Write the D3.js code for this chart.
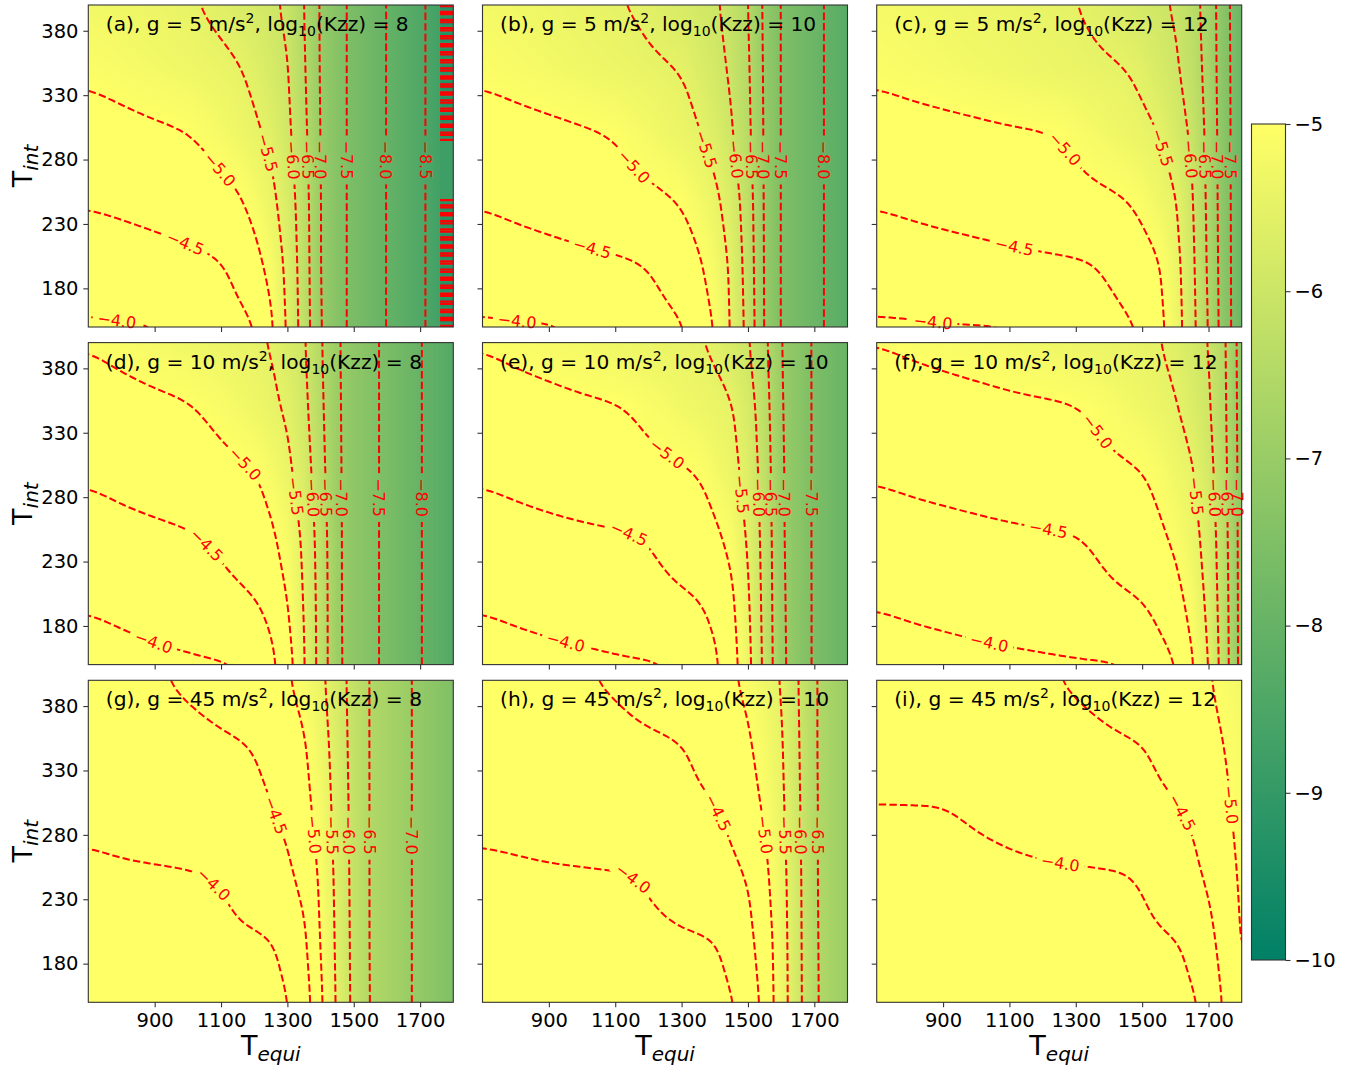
<!DOCTYPE html>
<html>
<head>
<meta charset="utf-8">
<script src="https://cdn.jsdelivr.net/npm/d3@7/dist/d3.min.js"></script>
<style>
  body { margin: 0; background: #fff; }
  svg text { font-family: "DejaVu Sans", sans-serif; }
</style>
</head>
<body>
<svg id="fig" width="1351" height="1075"></svg>
<script>
// sample grid (Teq columns, Tint rows from top to bottom)
const teqCols = [700, 800, 900, 1000, 1100, 1150, 1200, 1250, 1300, 1350, 1400, 1450, 1500, 1550, 1600, 1650, 1700, 1750, 1800];
const tintRows = [400, 350, 300, 250, 200, 150];

// log10 abundance
const gridA = [
  [-5.25, -5.30, -5.37, -5.45, -5.62, -5.72, -5.82, -5.92, -6.08, -6.50, -7.04, -7.35, -7.61, -7.81, -8.01, -8.22, -8.43, -8.65, -8.85],
  [-5.07, -5.15, -5.22, -5.30, -5.40, -5.46, -5.61, -5.79, -5.98, -6.45, -7.03, -7.35, -7.61, -7.81, -8.01, -8.22, -8.43, -8.65, -8.85],
  [-4.83, -4.88, -4.94, -4.99, -5.19, -5.30, -5.42, -5.59, -5.89, -6.38, -7.01, -7.35, -7.61, -7.81, -8.01, -8.22, -8.43, -8.65, -8.85],
  [-4.55, -4.60, -4.66, -4.74, -4.86, -4.95, -5.15, -5.38, -5.73, -6.29, -6.99, -7.35, -7.61, -7.81, -8.01, -8.22, -8.43, -8.65, -8.85],
  [-4.25, -4.30, -4.35, -4.40, -4.48, -4.64, -4.85, -5.14, -5.62, -6.26, -6.99, -7.35, -7.61, -7.81, -8.01, -8.22, -8.43, -8.65, -8.85],
  [-3.95, -3.97, -3.99, -4.10, -4.29, -4.39, -4.49, -4.91, -5.56, -6.23, -6.97, -7.35, -7.61, -7.81, -8.01, -8.22, -8.43, -8.65, -8.85]
];
const gridB = [
  [-5.22, -5.28, -5.35, -5.42, -5.48, -5.52, -5.61, -5.69, -5.78, -5.86, -5.95, -6.14, -6.50, -7.08, -7.51, -7.70, -7.89, -8.08, -8.28],
  [-5.07, -5.14, -5.21, -5.29, -5.36, -5.39, -5.43, -5.47, -5.51, -5.68, -5.85, -6.06, -6.44, -7.06, -7.51, -7.70, -7.89, -8.08, -8.28],
  [-4.83, -4.87, -4.91, -4.96, -5.02, -5.11, -5.20, -5.29, -5.38, -5.47, -5.67, -5.96, -6.39, -7.05, -7.51, -7.70, -7.89, -8.08, -8.28],
  [-4.55, -4.63, -4.70, -4.78, -4.85, -4.89, -4.93, -4.97, -5.03, -5.21, -5.40, -5.72, -6.26, -7.04, -7.51, -7.70, -7.89, -8.08, -8.28],
  [-4.25, -4.30, -4.35, -4.40, -4.45, -4.48, -4.52, -4.66, -4.80, -4.94, -5.19, -5.58, -6.21, -7.03, -7.51, -7.70, -7.89, -8.08, -8.28],
  [-3.95, -3.97, -3.98, -4.02, -4.17, -4.24, -4.31, -4.39, -4.46, -4.67, -5.03, -5.55, -6.15, -7.02, -7.51, -7.70, -7.89, -8.08, -8.28]
];
const gridC = [
  [-5.20, -5.25, -5.30, -5.35, -5.40, -5.42, -5.45, -5.47, -5.50, -5.58, -5.67, -5.76, -5.84, -5.93, -6.05, -6.31, -6.70, -7.36, -7.85],
  [-5.07, -5.13, -5.18, -5.24, -5.29, -5.32, -5.35, -5.38, -5.40, -5.43, -5.46, -5.49, -5.58, -5.76, -5.93, -6.22, -6.68, -7.34, -7.85],
  [-4.83, -4.86, -4.89, -4.92, -4.96, -4.97, -4.99, -5.01, -5.09, -5.18, -5.26, -5.34, -5.42, -5.50, -5.76, -6.07, -6.64, -7.33, -7.85],
  [-4.55, -4.61, -4.67, -4.72, -4.78, -4.81, -4.84, -4.87, -4.90, -4.93, -4.96, -4.99, -5.11, -5.30, -5.48, -5.96, -6.61, -7.32, -7.85],
  [-4.25, -4.29, -4.32, -4.36, -4.40, -4.42, -4.43, -4.45, -4.47, -4.49, -4.57, -4.70, -4.84, -4.98, -5.32, -5.89, -6.58, -7.31, -7.85],
  [-3.95, -3.96, -3.98, -3.99, -4.00, -4.06, -4.13, -4.19, -4.25, -4.32, -4.38, -4.44, -4.53, -4.86, -5.26, -5.84, -6.53, -7.30, -7.85]
];
const gridD = [
  [-5.03, -5.12, -5.20, -5.29, -5.37, -5.42, -5.46, -5.52, -5.74, -5.96, -6.45, -6.95, -7.20, -7.39, -7.60, -7.79, -7.98, -8.17, -8.37],
  [-4.80, -4.86, -4.92, -4.97, -5.11, -5.21, -5.31, -5.42, -5.56, -5.87, -6.40, -6.94, -7.20, -7.39, -7.60, -7.79, -7.98, -8.17, -8.37],
  [-4.56, -4.65, -4.73, -4.82, -4.90, -4.94, -4.99, -5.16, -5.40, -5.74, -6.33, -6.93, -7.20, -7.39, -7.60, -7.79, -7.98, -8.17, -8.37],
  [-4.31, -4.36, -4.41, -4.46, -4.57, -4.69, -4.81, -4.93, -5.16, -5.59, -6.22, -6.92, -7.20, -7.39, -7.60, -7.79, -7.98, -8.17, -8.37],
  [-4.05, -4.13, -4.22, -4.30, -4.39, -4.43, -4.47, -4.62, -5.00, -5.53, -6.19, -6.92, -7.20, -7.39, -7.60, -7.79, -7.98, -8.17, -8.37],
  [-3.80, -3.84, -3.89, -3.93, -3.98, -4.00, -4.18, -4.38, -4.75, -5.47, -6.19, -6.91, -7.20, -7.39, -7.60, -7.79, -7.98, -8.17, -8.37]
];
const gridE = [
  [-5.03, -5.10, -5.17, -5.24, -5.30, -5.34, -5.37, -5.41, -5.44, -5.48, -5.56, -5.77, -5.97, -6.39, -6.98, -7.27, -7.55, -7.75, -7.95],
  [-4.80, -4.85, -4.89, -4.94, -4.98, -5.02, -5.10, -5.17, -5.25, -5.32, -5.40, -5.47, -5.76, -6.30, -6.96, -7.26, -7.55, -7.75, -7.95],
  [-4.56, -4.63, -4.70, -4.76, -4.83, -4.87, -4.90, -4.93, -4.97, -5.01, -5.19, -5.37, -5.64, -6.23, -6.94, -7.26, -7.55, -7.75, -7.95],
  [-4.31, -4.35, -4.39, -4.43, -4.46, -4.48, -4.52, -4.62, -4.72, -4.82, -4.92, -5.11, -5.56, -6.17, -6.93, -7.26, -7.55, -7.75, -7.95],
  [-4.05, -4.12, -4.18, -4.25, -4.31, -4.35, -4.38, -4.41, -4.45, -4.48, -4.61, -4.91, -5.44, -6.15, -6.91, -7.25, -7.55, -7.75, -7.95],
  [-3.80, -3.83, -3.87, -3.90, -3.94, -3.96, -3.97, -3.99, -4.08, -4.25, -4.42, -4.77, -5.35, -6.12, -6.89, -7.25, -7.55, -7.75, -7.95]
];
const gridF = [
  [-5.01, -5.07, -5.12, -5.18, -5.24, -5.27, -5.29, -5.32, -5.35, -5.38, -5.41, -5.43, -5.46, -5.49, -5.63, -5.82, -6.02, -6.48, -7.23],
  [-4.78, -4.81, -4.85, -4.88, -4.92, -4.94, -4.95, -4.97, -4.99, -5.03, -5.11, -5.20, -5.29, -5.38, -5.47, -5.68, -5.94, -6.45, -7.22],
  [-4.55, -4.61, -4.66, -4.72, -4.77, -4.80, -4.83, -4.85, -4.88, -4.91, -4.94, -4.96, -4.99, -5.11, -5.29, -5.46, -5.82, -6.41, -7.21],
  [-4.30, -4.33, -4.36, -4.39, -4.43, -4.44, -4.46, -4.47, -4.49, -4.53, -4.63, -4.73, -4.83, -4.93, -5.08, -5.33, -5.69, -6.37, -7.20],
  [-4.04, -4.10, -4.15, -4.21, -4.27, -4.29, -4.32, -4.35, -4.38, -4.41, -4.43, -4.46, -4.49, -4.64, -4.85, -5.14, -5.62, -6.33, -7.20],
  [-3.78, -3.81, -3.84, -3.87, -3.90, -3.91, -3.93, -3.94, -3.96, -3.97, -3.98, -4.00, -4.16, -4.33, -4.49, -4.95, -5.51, -6.30, -7.20]
];
const gridG = [
  [-4.30, -4.38, -4.46, -4.57, -4.70, -4.77, -4.84, -4.91, -4.97, -5.15, -5.40, -5.77, -6.18, -6.52, -6.71, -6.90, -7.10, -7.29, -7.49],
  [-4.20, -4.26, -4.32, -4.38, -4.44, -4.47, -4.51, -4.66, -4.81, -4.96, -5.28, -5.71, -6.17, -6.52, -6.71, -6.90, -7.10, -7.29, -7.49],
  [-4.10, -4.17, -4.24, -4.31, -4.38, -4.41, -4.45, -4.48, -4.60, -4.85, -5.18, -5.67, -6.15, -6.52, -6.71, -6.90, -7.10, -7.29, -7.49],
  [-3.93, -3.95, -3.96, -3.98, -4.02, -4.12, -4.24, -4.34, -4.43, -4.63, -5.08, -5.62, -6.14, -6.52, -6.71, -6.90, -7.10, -7.29, -7.49],
  [-3.80, -3.83, -3.87, -3.90, -3.94, -3.96, -3.97, -3.99, -4.13, -4.42, -5.02, -5.59, -6.13, -6.52, -6.71, -6.90, -7.10, -7.29, -7.49],
  [-3.70, -3.75, -3.80, -3.84, -3.89, -3.91, -3.94, -3.96, -3.99, -4.23, -4.92, -5.56, -6.12, -6.51, -6.71, -6.90, -7.10, -7.29, -7.49]
];
const gridH = [
  [-4.30, -4.36, -4.41, -4.47, -4.55, -4.61, -4.67, -4.73, -4.79, -4.85, -4.90, -4.96, -5.08, -5.30, -5.53, -5.98, -6.45, -6.72, -6.95],
  [-4.20, -4.25, -4.30, -4.34, -4.39, -4.42, -4.44, -4.46, -4.49, -4.56, -4.69, -4.82, -4.95, -5.16, -5.45, -5.95, -6.45, -6.72, -6.95],
  [-4.10, -4.15, -4.21, -4.26, -4.32, -4.35, -4.37, -4.40, -4.43, -4.46, -4.48, -4.59, -4.81, -5.05, -5.40, -5.92, -6.44, -6.72, -6.95],
  [-3.93, -3.94, -3.96, -3.97, -3.99, -3.99, -4.04, -4.11, -4.19, -4.27, -4.35, -4.43, -4.53, -4.89, -5.32, -5.88, -6.44, -6.72, -6.95],
  [-3.80, -3.83, -3.86, -3.88, -3.91, -3.93, -3.94, -3.95, -3.97, -3.98, -4.00, -4.15, -4.37, -4.74, -5.28, -5.87, -6.43, -6.72, -6.95],
  [-3.70, -3.74, -3.78, -3.81, -3.85, -3.87, -3.89, -3.91, -3.93, -3.95, -3.97, -3.98, -4.10, -4.68, -5.26, -5.86, -6.42, -6.72, -6.95]
];
const gridI = [
  [-4.25, -4.30, -4.34, -4.39, -4.43, -4.45, -4.48, -4.50, -4.55, -4.61, -4.66, -4.71, -4.77, -4.82, -4.88, -4.93, -4.98, -5.10, -5.25],
  [-4.12, -4.16, -4.20, -4.25, -4.29, -4.31, -4.34, -4.36, -4.38, -4.40, -4.44, -4.47, -4.49, -4.57, -4.68, -4.79, -4.90, -5.01, -5.14],
  [-3.99, -3.99, -3.99, -4.05, -4.12, -4.15, -4.19, -4.22, -4.26, -4.30, -4.33, -4.37, -4.40, -4.44, -4.47, -4.55, -4.75, -4.94, -5.10],
  [-3.85, -3.87, -3.89, -3.91, -3.93, -3.94, -3.95, -3.96, -3.96, -3.97, -3.98, -3.99, -4.02, -4.15, -4.28, -4.41, -4.57, -4.82, -5.07],
  [-3.75, -3.78, -3.80, -3.83, -3.86, -3.87, -3.88, -3.90, -3.91, -3.92, -3.94, -3.95, -3.96, -3.98, -3.99, -4.06, -4.37, -4.69, -5.02],
  [-3.65, -3.69, -3.72, -3.76, -3.79, -3.81, -3.83, -3.84, -3.86, -3.88, -3.90, -3.91, -3.93, -3.95, -3.97, -3.98, -4.04, -4.60, -4.95]
];

// noisy strip at the hot edge of panel (a): alternating rows
const edgeTeqA = [1760, 1800];
const edgeTintA = [400, 393.75, 387.5, 381.25, 375, 368.75, 362.5, 356.25, 350, 343.75, 337.5, 331.25, 325, 318.75, 312.5, 306.25, 300, 293.75, 287.5, 281.25, 275, 268.75, 262.5, 256.25, 250, 243.75, 237.5, 231.25, 225, 218.75, 212.5, 206.25, 200, 193.75, 187.5, 181.25, 175, 168.75, 162.5, 156.25, 150];
const edgeValuesA = [-9.6, -8.9, -9.6, -8.9, -9.6, -8.9, -9.6, -8.9, -9.6, -8.9, -9.6, -8.9, -9.6, -8.9, -9.6, -8.9, -9.6,
  -8.8, -8.8, -8.8, -8.8, -8.8, -8.8, -8.8, -8.8,
  -9.6, -8.9, -9.6, -8.9, -9.6, -8.9, -9.6, -8.9, -9.6, -8.9, -9.6, -8.9, -9.6, -8.9, -9.6, -8.9];

const panelLetters = ["a", "b", "c", "d", "e", "f", "g", "h", "i"];
const gravity = [5, 5, 5, 10, 10, 10, 45, 45, 45];
const logKzz = [8, 10, 12, 8, 10, 12, 8, 10, 12];
const grids = [gridA, gridB, gridC, gridD, gridE, gridF, gridG, gridH, gridI];

const contourLevels = [-9.5, -9.0, -8.5, -8.0, -7.5, -7.0, -6.5, -6.0, -5.5, -5.0, -4.5, -4.0];
const xTickValues = [900, 1100, 1300, 1500, 1700];
const yTickValues = [180, 230, 280, 330, 380];
const cbTickValues = [-5, -6, -7, -8, -9, -10];

// layout
const panelW = 365, panelH = 322;
const colLeft = [88.3, 482.5, 876.7];
const rowTop = [5, 342.6, 680.3];
const cb = {x: 1251.5, y: 124, w: 34, h: 836};
const axisColor = "#333";

const svg = d3.select("#fig");
const defs = svg.append("defs");

const x = d3.scaleLinear().domain([700, 1800]).range([0, panelW]);
const y = d3.scaleLinear().domain([150, 400]).range([panelH, 0]);

// matplotlib "summer", vmin -10, vmax -5
function summer(v) {
  const t = Math.max(0, Math.min(1, (v + 10) / 5));
  return [Math.round(255 * t), Math.round(255 * (0.5 + 0.5 * t)), 102];
}

function sampler(g) {
  const n = g.cols.length, m = g.rows.length;
  const ci = d3.scaleLinear().domain(g.cols).range(d3.range(n)).clamp(true);
  const ri = d3.scaleLinear().domain(g.rows).range(d3.range(m)).clamp(true);
  return (teq, tint) => {
    const fx = ci(teq), fy = ri(tint);
    const i0 = Math.min(Math.floor(fx), n - 2), j0 = Math.min(Math.floor(fy), m - 2);
    const tx = fx - i0, ty = fy - j0, v = g.values;
    return (1 - ty) * ((1 - tx) * v[j0][i0] + tx * v[j0][i0 + 1]) +
           ty * ((1 - tx) * v[j0 + 1][i0] + tx * v[j0 + 1][i0 + 1]);
  };
}

function heatImage(main, patch) {
  const canvas = document.createElement("canvas");
  canvas.width = panelW; canvas.height = panelH;
  const ctx = canvas.getContext("2d");
  const img = ctx.createImageData(panelW, panelH);
  const fMain = sampler(main), fPatch = patch ? sampler(patch) : null;
  for (let j = 0; j < panelH; j++) {
    const tint = y.invert(j + 0.5);
    for (let i = 0; i < panelW; i++) {
      const teq = x.invert(i + 0.5);
      const v = fPatch && teq >= patch.cols[0] ? fPatch(teq, tint) : fMain(teq, tint);
      const c = summer(v), o = (j * panelW + i) * 4;
      img.data[o] = c[0]; img.data[o + 1] = c[1]; img.data[o + 2] = c[2]; img.data[o + 3] = 255;
    }
  }
  ctx.putImageData(img, 0, 0);
  return canvas.toDataURL();
}

// resample a closed ring at even spacing, then smooth it with a running mean
function resample(ring, step) {
  const out = [];
  let carry = 0;
  for (let i = 0; i < ring.length; i++) {
    const a = ring[i], b = ring[(i + 1) % ring.length];
    const d = Math.hypot(b[0] - a[0], b[1] - a[1]);
    let s = carry;
    while (s < d) {
      out.push([a[0] + (b[0] - a[0]) * s / d, a[1] + (b[1] - a[1]) * s / d]);
      s += step;
    }
    carry = s - d;
  }
  return out;
}

function smoothRing(pts, r, passes) {
  const n = pts.length;
  if (n < 2 * r + 3) return pts;
  let cur = pts;
  for (let p = 0; p < passes; p++) {
    const out = new Array(n);
    for (let i = 0; i < n; i++) {
      let sx = 0, sy = 0;
      for (let k = -r; k <= r; k++) {
        const q = cur[(i + k + n) % n];
        sx += q[0]; sy += q[1];
      }
      out[i] = [sx / (2 * r + 1), sy / (2 * r + 1)];
    }
    cur = out;
  }
  return cur;
}

// contour rings in panel pixels; grid padded by one repeated sample so borders fall outside
function contourRings(g) {
  const n = g.cols.length, m = g.rows.length, N = n + 2, M = m + 2;
  const vals = new Array(N * M);
  for (let j = 0; j < M; j++) for (let i = 0; i < N; i++) {
    const si = Math.max(0, Math.min(n - 1, i - 1)), sj = Math.max(0, Math.min(m - 1, j - 1));
    vals[j * N + i] = g.values[sj][si];
  }
  const colAt = d3.scaleLinear().domain(d3.range(n)).range(g.cols);
  const rowAt = d3.scaleLinear().domain(d3.range(m)).range(g.rows);
  return d3.contours().size([N, M]).thresholds(contourLevels)(vals).map(c => ({
    level: c.value,
    rings: c.coordinates.flat().map(ring =>
      ring.slice(0, -1).map(([cx, cy]) => [x(colAt(cx - 1.5)), y(rowAt(cy - 1.5))]))
  }));
}

function visibleRuns(ring) {
  const inside = p => p[0] >= -0.5 && p[0] <= panelW + 0.5 && p[1] >= -0.5 && p[1] <= panelH + 0.5;
  const start = ring.findIndex(p => !inside(p));
  const pts = start < 0 ? ring : ring.slice(start).concat(ring.slice(0, start));
  const runs = [];
  let cur = [];
  pts.forEach(p => {
    if (inside(p)) cur.push(p);
    else { if (cur.length > 1) runs.push(cur); cur = []; }
  });
  if (cur.length > 1) runs.push(cur);
  // measure every run from its upper end
  return runs.map(r => (r[0][1] > r[r.length - 1][1] ? r.slice().reverse() : r));
}

function runLength(run) {
  let s = 0;
  for (let i = 1; i < run.length; i++) s += Math.hypot(run[i][0] - run[i - 1][0], run[i][1] - run[i - 1][1]);
  return s;
}

function pointAt(run, s) {
  let acc = 0;
  for (let i = 1; i < run.length; i++) {
    const d = Math.hypot(run[i][0] - run[i - 1][0], run[i][1] - run[i - 1][1]);
    if (d > 0 && acc + d >= s) {
      const t = (s - acc) / d;
      return [run[i - 1][0] + t * (run[i][0] - run[i - 1][0]), run[i - 1][1] + t * (run[i][1] - run[i - 1][1])];
    }
    acc += d;
  }
  return run[run.length - 1];
}

const fmtLevel = v => (v < 0 ? "\u2212" : "") + Math.abs(v).toFixed(1);
const line = d3.line();
const dash = {width: 2, pattern: "7.4,3.2"};

grids.forEach((values, k) => {
  const col = k % 3, row = Math.floor(k / 3);
  const left = colLeft[col], top = rowTop[row];
  const main = {cols: teqCols, rows: tintRows, values: values};
  const patch = k === 0 ? {cols: edgeTeqA, rows: edgeTintA, values: edgeValuesA.map(v => [v, v])} : null;

  const g = svg.append("g").attr("transform", `translate(${left},${top})`);

  defs.append("clipPath").attr("id", `clip${k}`)
    .append("rect").attr("width", panelW).attr("height", panelH);

  g.append("image")
    .attr("width", panelW).attr("height", panelH)
    .attr("preserveAspectRatio", "none")
    .attr("href", heatImage(main, patch));

  const mask = defs.append("mask").attr("id", `mask${k}`)
    .attr("maskUnits", "userSpaceOnUse")
    .attr("x", -20).attr("y", -20).attr("width", panelW + 40).attr("height", panelH + 40);
  mask.append("rect").attr("x", -20).attr("y", -20)
    .attr("width", panelW + 40).attr("height", panelH + 40).attr("fill", "white");

  const lineG = g.append("g").attr("clip-path", `url(#clip${k})`)
    .append("g").attr("mask", `url(#mask${k})`);
  const labelG = g.append("g");

  contourRings(main).forEach(c => {
    c.rings.forEach(raw => {
      const ring = smoothRing(resample(raw, 2), 8, 2);
      lineG.append("path").attr("d", line(ring) + "Z")
        .attr("fill", "none").attr("stroke", "#ff0000")
        .attr("stroke-width", dash.width).attr("stroke-dasharray", dash.pattern);
      visibleRuns(ring).forEach(run => {
        const L = runLength(run);
        if (L < 45) return;
        const s = L * 0.48;
        const p = pointAt(run, s);
        const a = pointAt(run, Math.max(0, s - 9)), b = pointAt(run, Math.min(L, s + 9));
        let ang = Math.atan2(b[1] - a[1], b[0] - a[0]) * 180 / Math.PI;
        if (ang > 90) ang -= 180;
        if (ang <= -90) ang += 180;
        const tr = `translate(${p[0]},${p[1]}) rotate(${ang})`;
        const t = labelG.append("text").attr("transform", tr)
          .attr("text-anchor", "middle").attr("dy", "0.36em")
          .attr("font-size", 16).attr("fill", "#ff0000")
          .text(fmtLevel(c.level));
        const w = t.node().getComputedTextLength() + 10;
        mask.append("rect").attr("transform", tr)
          .attr("x", -w / 2).attr("y", -8).attr("width", w).attr("height", 16)
          .attr("fill", "black");
      });
    });
  });

  if (patch) {
    defs.append("clipPath").attr("id", "clipPatch")
      .append("rect").attr("x", x(edgeTeqA[0])).attr("width", panelW - x(edgeTeqA[0])).attr("height", panelH);
    const pg = lineG.append("g").attr("clip-path", "url(#clipPatch)");
    contourRings(patch).forEach(c => {
      c.rings.forEach(ring => {
        pg.append("path").attr("d", line(ring) + "Z")
          .attr("fill", "none").attr("stroke", "#ff0000").attr("stroke-width", 2.2);
      });
    });
  }

  // frame
  g.append("rect").attr("width", panelW).attr("height", panelH)
    .attr("fill", "none").attr("stroke", axisColor).attr("stroke-width", 1.1);

  // axes
  const xa = g.append("g").attr("transform", `translate(0,${panelH})`)
    .call(d3.axisBottom(x).tickValues(xTickValues).tickSize(5).tickSizeOuter(0).tickPadding(5.6)
      .tickFormat(row === 2 ? d3.format("d") : () => ""));
  const ya = g.append("g")
    .call(d3.axisLeft(y).tickValues(yTickValues).tickSize(5).tickSizeOuter(0).tickPadding(4.8)
      .tickFormat(col === 0 ? d3.format("d") : () => ""));
  [xa, ya].forEach(ax => {
    ax.select(".domain").remove();
    ax.selectAll(".tick line").attr("stroke", axisColor).attr("stroke-width", 1.1);
    ax.selectAll(".tick text").attr("font-size", 19.5).attr("fill", "#000")
      .attr("font-family", "DejaVu Sans");
  });

  // panel title
  const title = g.append("text").attr("x", 17.5).attr("y", 26).attr("font-size", 20.2).attr("fill", "#000");
  title.append("tspan").text(`(${panelLetters[k]}), g = ${gravity[k]} m/s`);
  title.append("tspan").attr("dy", -8).attr("font-size", 14).text("2");
  title.append("tspan").attr("dy", 8).text(", log");
  title.append("tspan").attr("dy", 5).attr("font-size", 14).text("10");
  title.append("tspan").attr("dy", -5).text(`(Kzz) = ${logKzz[k]}`);

  // axis labels
  if (row === 2) {
    const xl = svg.append("text").attr("x", left + panelW / 2).attr("y", 1055)
      .attr("text-anchor", "middle").attr("fill", "#000");
    xl.append("tspan").attr("font-size", 27).text("T");
    xl.append("tspan").attr("font-size", 20).attr("font-style", "italic").attr("dy", 6).text("equi");
  }
  if (col === 0) {
    const yl = svg.append("text")
      .attr("transform", `translate(32,${top + panelH / 2}) rotate(-90)`)
      .attr("text-anchor", "middle").attr("fill", "#000");
    yl.append("tspan").attr("font-size", 27).text("T");
    yl.append("tspan").attr("font-size", 20).attr("font-style", "italic").attr("dy", 6).text("int");
  }
});

// colorbar
const grad = defs.append("linearGradient").attr("id", "cbGrad")
  .attr("x1", 0).attr("y1", 1).attr("x2", 0).attr("y2", 0);
[-10, -5].forEach((v, i) => {
  const c = summer(v);
  grad.append("stop").attr("offset", i).attr("stop-color", `rgb(${c[0]},${c[1]},${c[2]})`);
});
svg.append("rect").attr("x", cb.x).attr("y", cb.y).attr("width", cb.w).attr("height", cb.h)
  .attr("fill", "url(#cbGrad)").attr("stroke", axisColor).attr("stroke-width", 1.1);
const cbScale = d3.scaleLinear().domain([-10, -5]).range([cb.y + cb.h, cb.y]);
const cbAxis = svg.append("g").attr("transform", `translate(${cb.x + cb.w},0)`)
  .call(d3.axisRight(cbScale).tickValues(cbTickValues).tickSize(5).tickSizeOuter(0).tickPadding(4)
    .tickFormat(d => "\u2212" + Math.abs(d)));
cbAxis.select(".domain").remove();
cbAxis.selectAll(".tick line").attr("stroke", axisColor).attr("stroke-width", 1.1);
cbAxis.selectAll(".tick text").attr("font-size", 19.5).attr("fill", "#000").attr("font-family", "DejaVu Sans");
</script>
</body>
</html>
